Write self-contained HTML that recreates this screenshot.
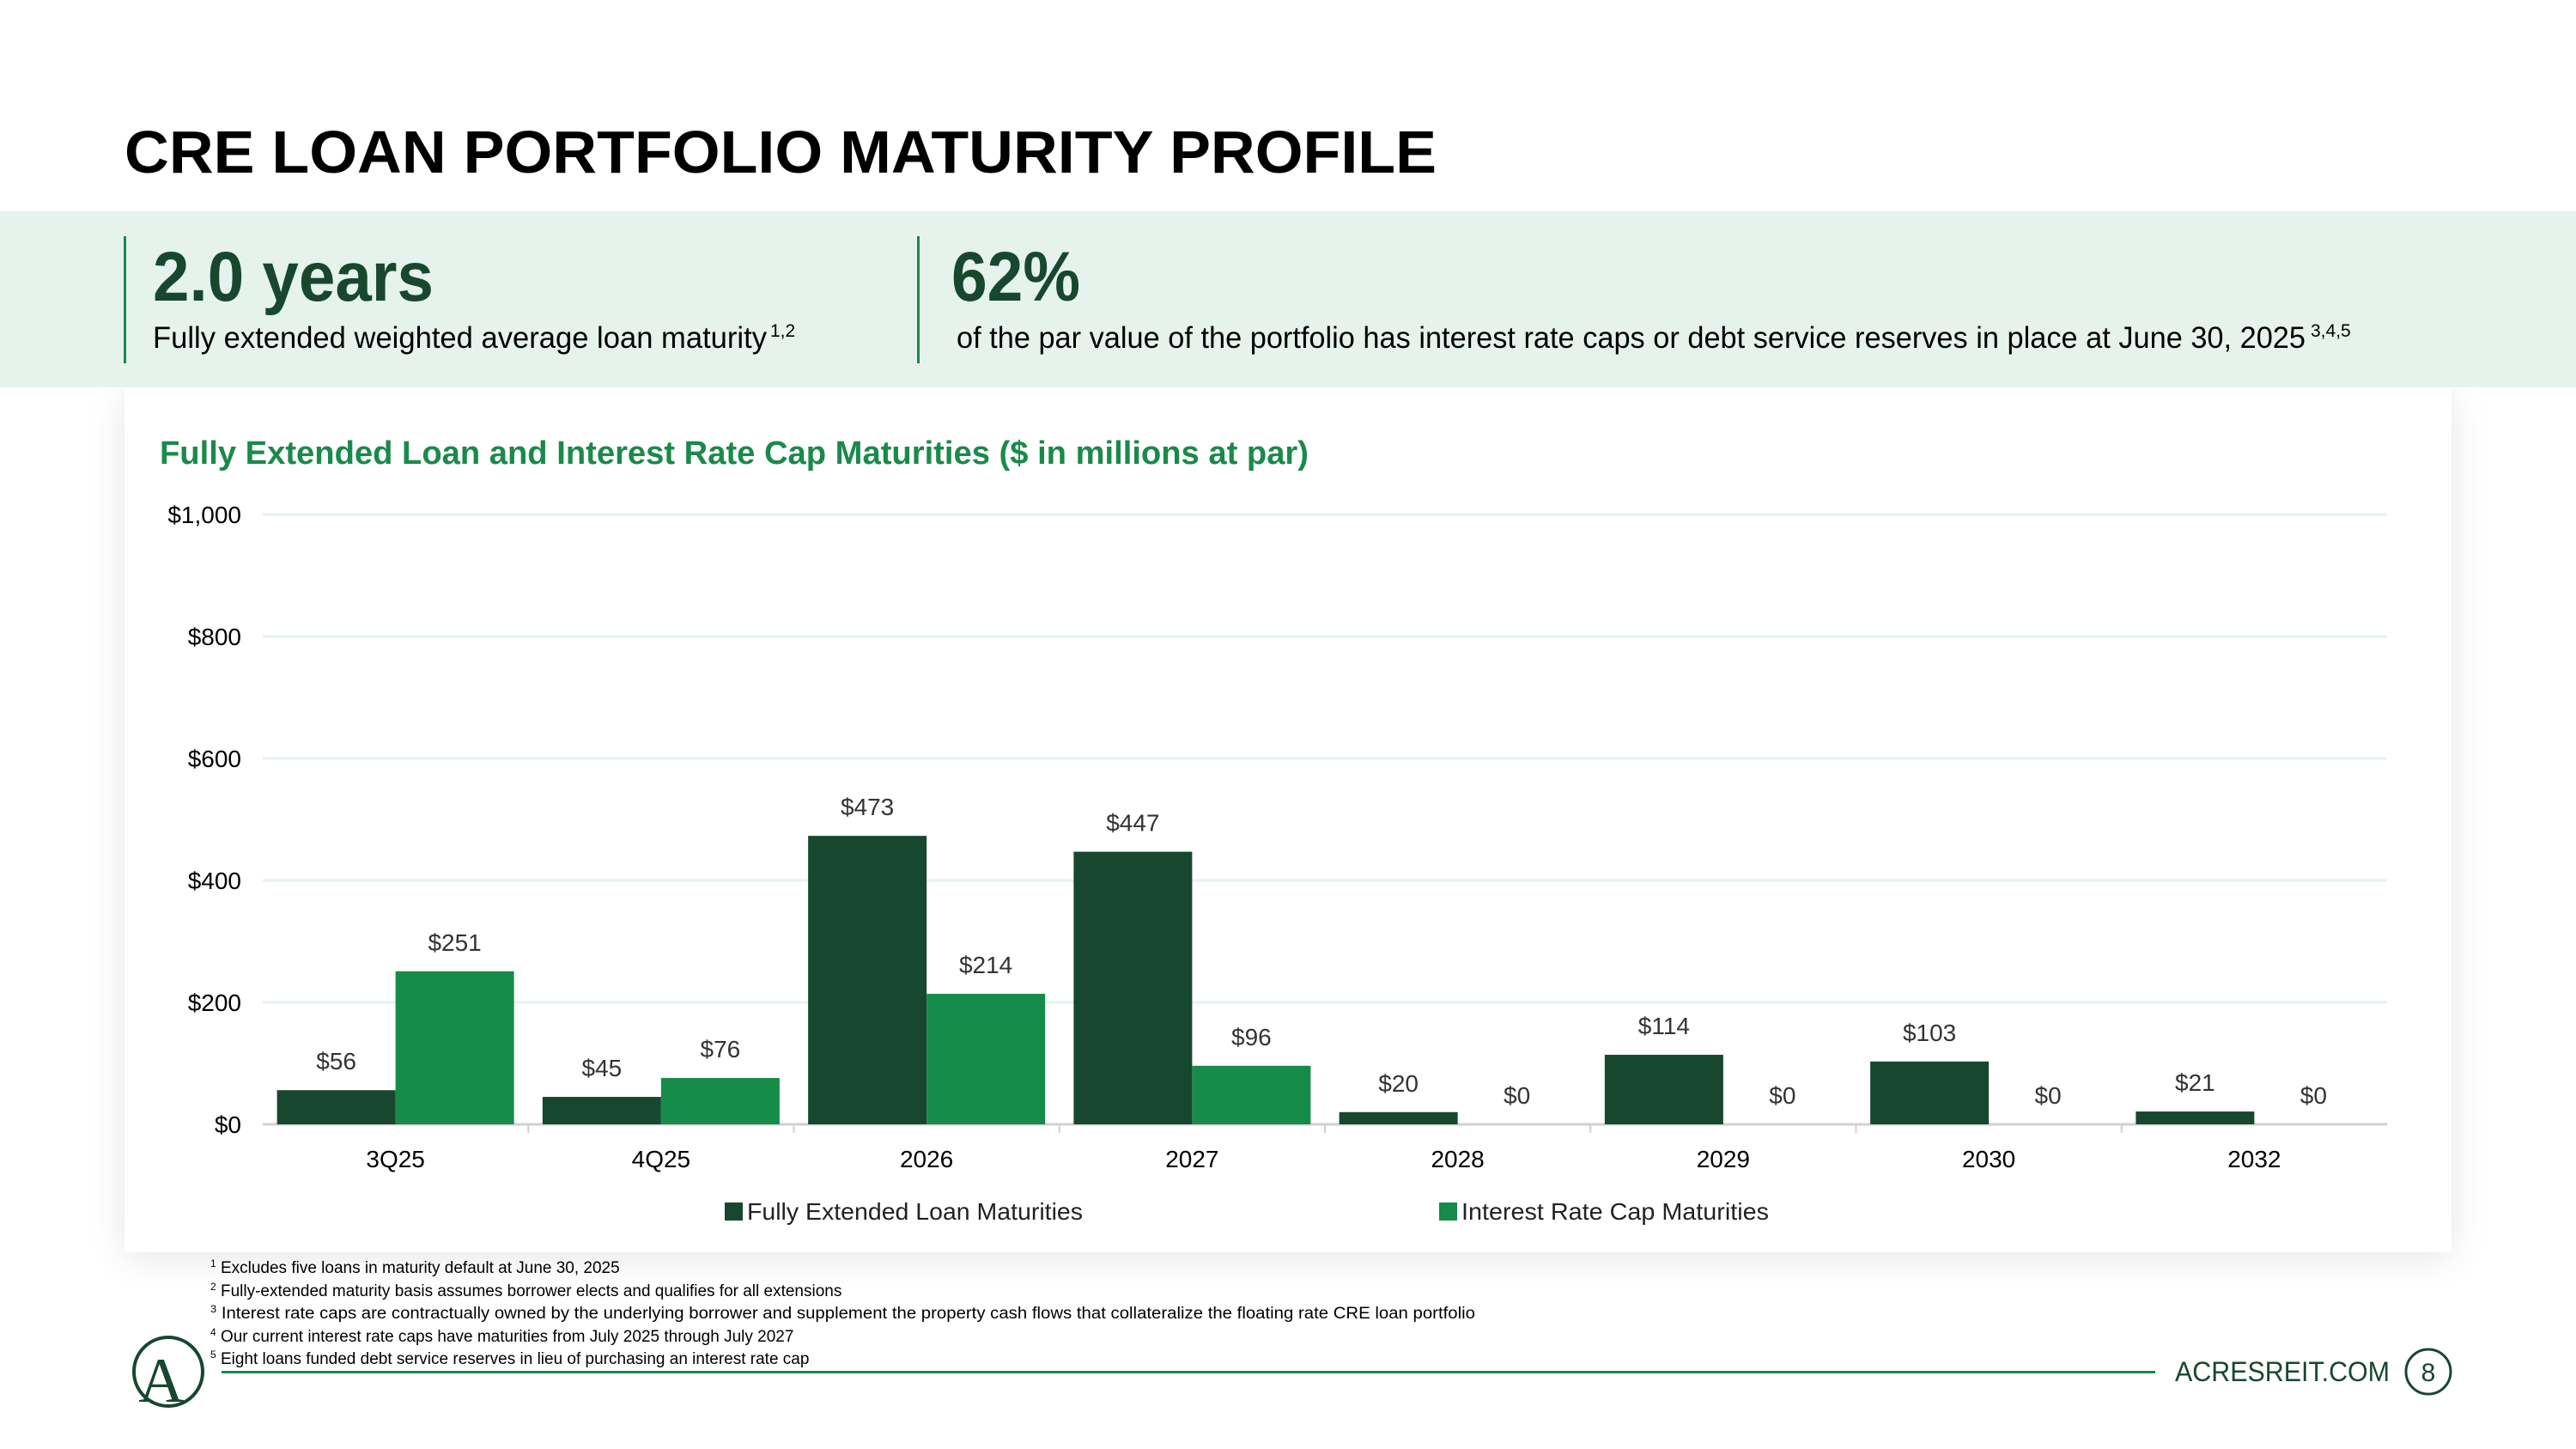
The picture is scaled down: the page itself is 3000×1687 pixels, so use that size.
<!DOCTYPE html>
<html><head><meta charset="utf-8"><style>
html,body{margin:0;padding:0;background:#fff;}
body{width:3000px;height:1687px;position:relative;overflow:hidden;font-family:"Liberation Sans",sans-serif;}
#card{position:absolute;left:145px;top:451px;width:2710px;height:1007px;background:#fff;box-shadow:0 6px 40px rgba(0,0,0,0.10);}
svg{position:absolute;left:0;top:0;}
</style></head><body>
<div id="card"></div>
<svg id="s" width="3000" height="1687">
<text x="145" y="201" font-size="70" font-weight="bold" fill="#000" textLength="1528" lengthAdjust="spacingAndGlyphs">CRE LOAN PORTFOLIO MATURITY PROFILE</text>
<rect x="0" y="246" width="3000" height="205" fill="#e5f3ec"/>
<rect x="144" y="275" width="3" height="148" fill="#1a8a4a"/>
<rect x="1068" y="275" width="3" height="148" fill="#1a8a4a"/>
<text x="178" y="350" font-size="82" font-weight="bold" fill="#17472f" textLength="327" lengthAdjust="spacingAndGlyphs">2.0 years</text>
<text x="178" y="405" font-size="35" fill="#000" textLength="715" lengthAdjust="spacingAndGlyphs">Fully extended weighted average loan maturity</text>
<text x="897" y="392" font-size="21" fill="#000">1,2</text>
<text x="1108" y="350" font-size="82" font-weight="bold" fill="#17472f" textLength="150" lengthAdjust="spacingAndGlyphs">62%</text>
<text x="1114" y="405" font-size="35" fill="#000" textLength="1571" lengthAdjust="spacingAndGlyphs">of the par value of the portfolio has interest rate caps or debt service reserves in place at June 30, 2025</text>
<text x="2691" y="392" font-size="21" fill="#000">3,4,5</text>
<text x="186" y="540" font-size="38" font-weight="bold" fill="#1a8a4a" textLength="1338" lengthAdjust="spacingAndGlyphs">Fully Extended Loan and Interest Rate Cap Maturities ($ in millions at par)</text>
<g id="chart"></g>
<rect x="844" y="1400" width="21" height="21" fill="#17472f"/>
<text x="870" y="1420" font-size="28" fill="#222" textLength="391" lengthAdjust="spacingAndGlyphs">Fully Extended Loan Maturities</text>
<rect x="1676" y="1400" width="21" height="21" fill="#168b4a"/>
<text x="1702" y="1420" font-size="28" fill="#222" textLength="358" lengthAdjust="spacingAndGlyphs">Interest Rate Cap Maturities</text>
<g font-size="19" fill="#000">
<text x="245" y="1482"><tspan font-size="12" dy="-7">1</tspan><tspan dy="7"> Excludes five loans in maturity default at June 30, 2025</tspan></text>
<text x="245" y="1509"><tspan font-size="12" dy="-7">2</tspan><tspan dy="7"> Fully-extended maturity basis assumes borrower elects and qualifies for all extensions</tspan></text>
<text x="245" y="1535" textLength="1473" lengthAdjust="spacingAndGlyphs"><tspan font-size="12" dy="-7">3</tspan><tspan dy="7"> Interest rate caps are contractually owned by the underlying borrower and supplement the property cash flows that collateralize the floating rate CRE loan portfolio</tspan></text>
<text x="245" y="1562"><tspan font-size="12" dy="-7">4</tspan><tspan dy="7"> Our current interest rate caps have maturities from July 2025 through July 2027</tspan></text>
<text x="245" y="1588"><tspan font-size="12" dy="-7">5</tspan><tspan dy="7"> Eight loans funded debt service reserves in lieu of purchasing an interest rate cap</tspan></text>
</g>
<rect x="258" y="1596" width="2252" height="3" fill="#1a8a4a"/>
<g>
<circle cx="196" cy="1597" r="40" fill="none" stroke="#17472f" stroke-width="4"/>
<text x="188" y="1632" font-size="74" font-family="Liberation Serif,serif" fill="#17472f" text-anchor="middle">A</text>
</g>
<text x="2533" y="1608" font-size="32" fill="#17472f" textLength="250" lengthAdjust="spacingAndGlyphs">ACRESREIT.COM</text>
<circle cx="2828" cy="1597" r="26" fill="none" stroke="#17472f" stroke-width="3"/>
<text x="2828" y="1608" font-size="30" fill="#17472f" text-anchor="middle">8</text>
</svg>
<script>
const categories = ["3Q25","4Q25","2026","2027","2028","2029","2030","2032"];
const loanValues = [56,45,473,447,20,114,103,21];
const capValues = [251,76,214,96,0,0,0,0];
const yTicks = [0,200,400,600,800,1000];
const yTickLabels = ["$0","$200","$400","$600","$800","$1,000"];

const NS="http://www.w3.org/2000/svg";
const g=document.getElementById('chart');
const X0=306,X1=2780,Y0=1309,Y1=599,YMAX=1000;
const catW=(X1-X0)/categories.length, barW=138, pad=(catW-2*barW)/2;
function y(v){return Y0-(v/YMAX)*(Y0-Y1);}
function xCat(i){return X0+i*catW;}
function mk(tag,attrs){const e=document.createElementNS(NS,tag);for(const k in attrs)e.setAttribute(k,attrs[k]);g.appendChild(e);return e;}
yTicks.forEach((t,i)=>{
  const l=mk('line',{x1:X0,x2:X1,y1:y(t),y2:y(t),stroke:t===0?'#d0d0d0':'#e6f2ec','stroke-width':3});
  
  
  const tx=mk('text',{x:281,y:y(t)+10,'font-size':28,fill:'#000','text-anchor':'end'});
  tx.textContent=yTickLabels[i];
  
  
});
categories.forEach((c,i)=>{
  if(i>0){const tk=mk('line',{x1:xCat(i),x2:xCat(i),y1:Y0,y2:Y0+10,stroke:'#d0d0d0','stroke-width':2});
    
    }
  const lab=mk('text',{x:xCat(i)+catW/2,y:1359,'font-size':28,fill:'#000','text-anchor':'middle'});
  lab.textContent=c;
  
  
  [[loanValues[i],'#17472f',0,'bar-loans-'],[capValues[i],'#168b4a',barW,'bar-caps-']].forEach(([v,col,off,nm])=>{
    const bx=xCat(i)+pad+off;
    const r=mk('rect',{x:bx,y:y(v),width:barW,height:Y0-y(v),fill:col});
    
    
    const vl=mk('text',{x:bx+barW/2,y:y(v)-24,'font-size':28,fill:'#333','text-anchor':'middle'});
    vl.textContent='$'+v;
    
    
  });
});
</script>
</body></html>
